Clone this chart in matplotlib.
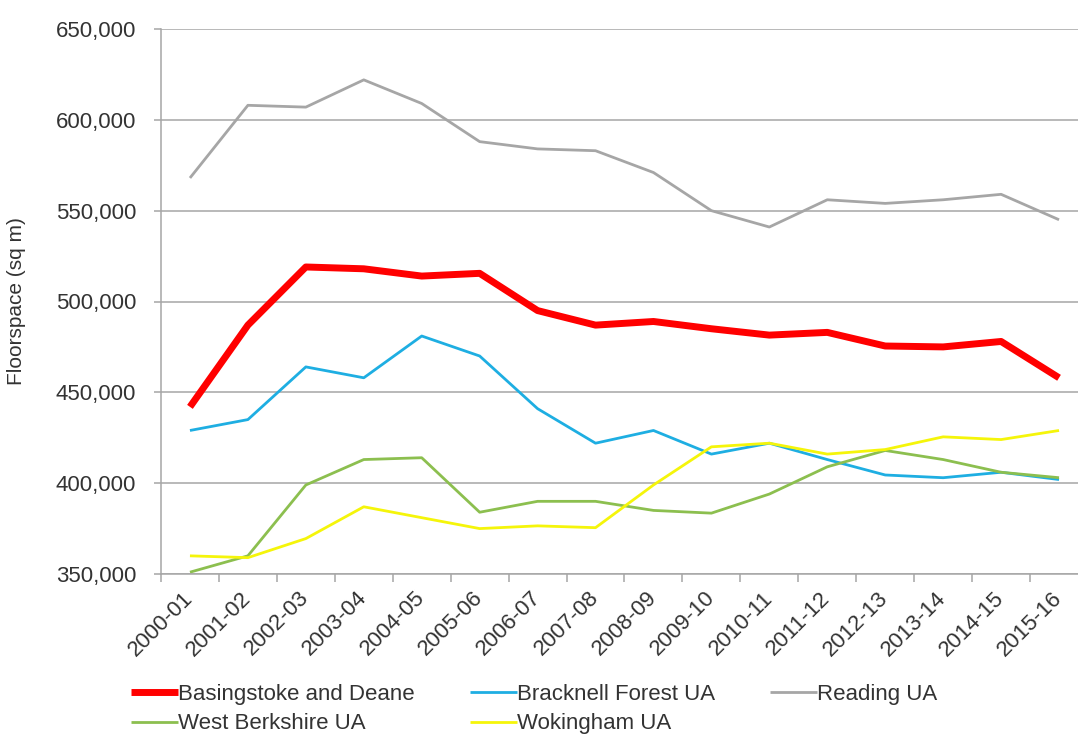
import numpy as np
import matplotlib
matplotlib.use("Agg")
import matplotlib.pyplot as plt
from matplotlib.ticker import FuncFormatter

# Financial years on the x axis
years = ['2000-01', '2001-02', '2002-03', '2003-04', '2004-05', '2005-06',
         '2006-07', '2007-08', '2008-09', '2009-10', '2010-11', '2011-12',
         '2012-13', '2013-14', '2014-15', '2015-16']

# Floorspace (sq m) per local authority
basingstoke = [442000, 487000, 519000, 518000, 514000, 515500, 495000, 487000,
               489000, 485000, 481500, 483000, 475500, 475000, 478000, 458000]
bracknell = [429000, 435000, 464000, 458000, 481000, 470000, 441000, 422000,
             429000, 416000, 422000, 413000, 404500, 403000, 406000, 402000]
reading = [568000, 608000, 607000, 622000, 609000, 588000, 584000, 583000,
           571000, 550000, 541000, 556000, 554000, 556000, 559000, 545000]
west_berkshire = [351000, 360000, 399000, 413000, 414000, 384000, 390000, 390000,
                  385000, 383500, 394000, 409000, 418000, 413000, 406000, 403000]
wokingham = [360000, 359000, 369500, 387000, 381000, 375000, 376500, 375500,
             399000, 420000, 422000, 416000, 418500, 425500, 424000, 429000]

labels = ['Basingstoke and Deane', 'Bracknell Forest UA', 'Reading UA',
          'West Berkshire UA', 'Wokingham UA']

TEXT = '#333333'
GRID = '#A6A6A6'

plt.rcParams['font.family'] = ['Liberation Sans', 'DejaVu Sans']
plt.rcParams['font.size'] = 16

W, H = 1078, 735
fig = plt.figure(figsize=(W / 100, H / 100), dpi=100)

# plot area in pixels: left spine at 161, 650k at y=29, 350k at y=574
ax_bottom = 1 - 574 / H
ax_height = (574 - 29) / H
ax = fig.add_axes([161 / W, ax_bottom, (1088 - 161) / W, ax_height])

x = np.arange(len(years))
series = [
    (basingstoke, '#FF0000', 5.0),
    (bracknell, '#1EAEE2', 2.0),
    (reading, '#A6A6A6', 2.0),
    (west_berkshire, '#8CBF4F', 2.0),
    (wokingham, '#F5F50A', 2.0),
]
lines = []
for (vals, col, lw), lab in zip(series, labels):
    ln, = ax.plot(x, vals, color=col, lw=lw, label=lab,
                  solid_joinstyle='round', solid_capstyle='butt')
    lines.append(ln)

# axes and grid
ax.set_xlim(-0.5, len(years) - 0.5)
ax.set_ylim(350000, 650000)
ax.set_yticks(np.arange(350000, 650001, 50000))
ax.yaxis.set_major_formatter(FuncFormatter(lambda v, p: f'{int(v):,}'))
ax.yaxis.grid(True, color=GRID, lw=1.1)
ax.set_axisbelow(True)

for side in ['top', 'right']:
    ax.spines[side].set_visible(False)
for side in ['left', 'bottom']:
    ax.spines[side].set_color(GRID)
    ax.spines[side].set_linewidth(1.1)

# category labels at the centres, tick marks between the categories
ax.set_xticks(x)
ax.set_xticklabels(years, rotation=45, ha='right', va='center',
                   rotation_mode='anchor', color=TEXT)
ax.set_xticks(np.arange(-0.5, len(years), 1.0), minor=True)
ax.tick_params(axis='x', which='major', length=0, pad=15)
ax.tick_params(axis='x', which='minor', length=5.5, width=1.1, color=GRID)
ax.tick_params(axis='y', length=5, width=1.1, color=GRID, pad=13, labelcolor=TEXT)

# the rotated label hangs to the left of the given x
ax.set_ylabel('Floorspace (sq m)', fontsize=15, color=TEXT)
ax.yaxis.set_label_coords(26 / W, ax_bottom + ax_height / 2, transform=fig.transFigure)

# legend laid out row by row like the original (matplotlib fills by column)
order = [0, 3, 1, 4, 2]
fig.legend([lines[i] for i in order], [labels[i] for i in order],
           loc='upper left', bbox_to_anchor=(131 / W, 1 - 684 / H),
           ncol=3, frameon=False, fontsize=16, handlelength=2.1,
           handletextpad=0.0, columnspacing=2.5, labelspacing=0.38,
           borderpad=0, borderaxespad=0, labelcolor=TEXT)

fig.savefig('out.png', dpi=100)
